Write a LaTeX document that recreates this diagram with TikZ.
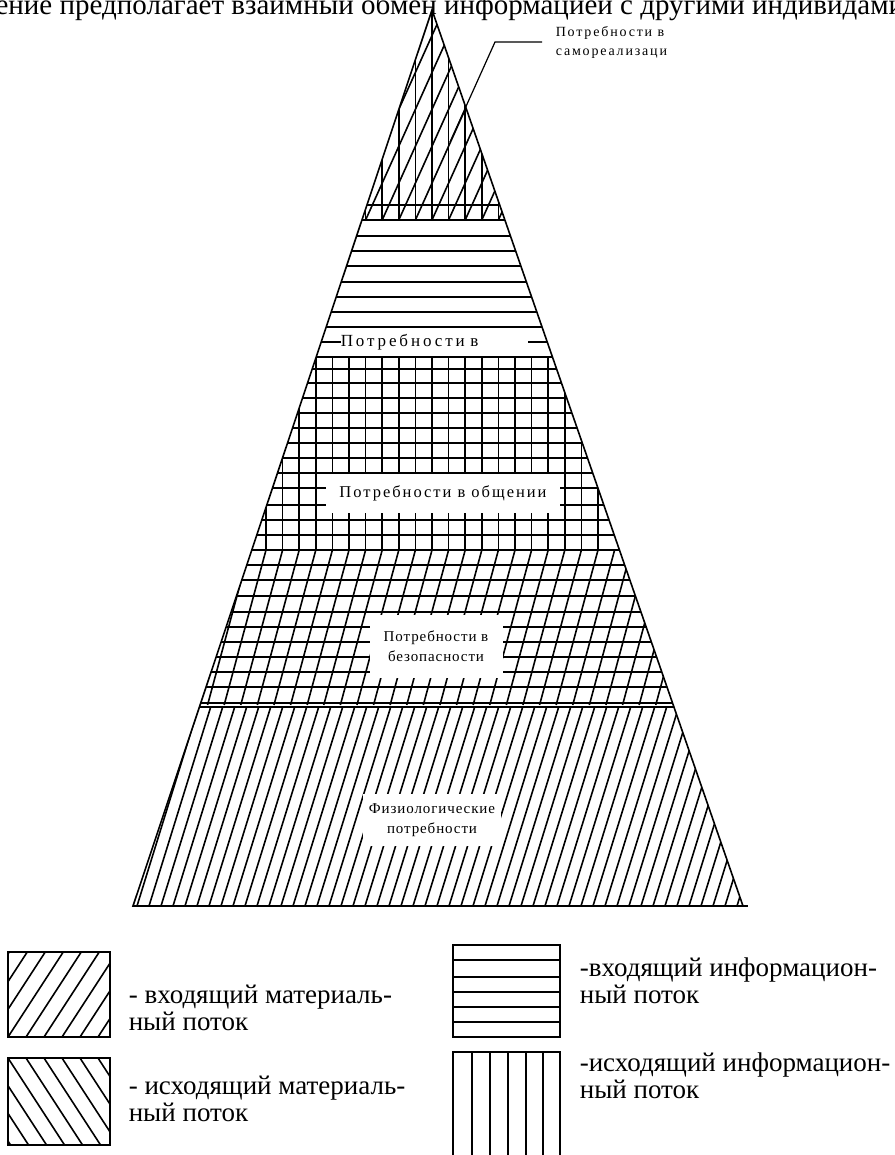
\documentclass[tikz,border=0pt]{standalone}
\usepackage{fontspec}
\setmainfont{Liberation Serif}
\begin{document}
\begin{tikzpicture}[x=1pt,y=-1pt,line width=1.6pt,
  lab/.style={fill=white,inner sep=0pt,font=\fontsize{16.5}{22}\selectfont\addfontfeature{LetterSpace=12}},
  labs/.style={fill=white,inner sep=0pt,align=center,font=\fontsize{15}{20}\selectfont\addfontfeature{LetterSpace=6}},
  legtext/.style={anchor=west,align=left,inner sep=0pt,font=\fontsize{27}{27.5}\selectfont}]
\useasboundingbox (0,0) rectangle (894,1155);
% top (cut) sentence
\node[anchor=base east,inner sep=0pt,font=\fontsize{29}{30}\selectfont] (top) at (905,15) {Общение предполагает взаимный обмен информацией с другими индивидами};
% pyramid hatching
\coordinate (A) at (432,10);
\coordinate (BL) at (133,906);
\coordinate (BR) at (743,906);
\begin{scope}
\clip (A) -- (BL) -- (BR) -- cycle;
% top triangle
\begin{scope}
\clip (0,0) rectangle (894,220);
\foreach \k in {-4,...,4} \draw ({432+16.6*\k},0) -- ({432+16.6*\k},220);
\foreach \k in {-9,...,6} \draw ({432+16.6*\k},220) -- ({432+16.6*\k+0.45*220},0);
\end{scope}
% horizontal lines
\foreach \y in {205,220,236,251,266,282,297,312,327,342,357,369,383,398,413,428,443,458,473,488,505,520,535,550,565,580,596,612,627,642,657,672,687,703,707}
  \draw (100,\y) -- (800,\y);
% grid verticals
\foreach \k in {-10,...,10} \draw ({432+16.6*\k},357) -- ({432+16.6*\k},550);
% band 4 diagonals
\foreach \k in {-12,...,16} \draw ({432+16.6*\k},550) -- ({432+16.6*\k-0.27*155},705);
% band 5 diagonals
\foreach \k in {0,...,54} \draw ({125+12*\k},906) -- ({125+12*\k+0.31*199},707);
\end{scope}
\draw (A) -- (BL) -- (BR) -- cycle;
\draw (133,906) -- (748,906);
% labels
\node[lab,anchor=west,minimum height=17pt,text width=187pt,font=\fontsize{17}{22}\selectfont\addfontfeature{LetterSpace=17}] (l2) at (340,342) {Потребности в};
\node[lab,minimum width=234pt,minimum height=39pt] (l3) at (443,493) {Потребности в общении};
\node[labs,minimum width=133pt,minimum height=63pt] (l4) at (436,646) {Потребности в\\безопасности};
\node[labs,minimum width=138pt,minimum height=52pt] (l5) at (432,820) {Физиологические\\потребности};
\node[anchor=west,align=left,inner xsep=13pt,inner ysep=0pt,font=\fontsize{14}{19}\selectfont\addfontfeature{LetterSpace=13}] (l1) at (542,42) {Потребности в\\самореализаци};
\coordinate (lp) at (450,142);
\draw[line width=1.2pt] (lp) -- (495,42) -- (l1.west);
% legend
\begin{scope}
\clip (8,952) rectangle (110,1037);
\foreach \k in {-5,...,6} \draw ({8+18*\k},1037) -- ({8+18*\k+0.65*85},952);
\end{scope}
\draw (8,952) rectangle (110,1037);
\begin{scope}
\clip (8,1058) rectangle (110,1145);
\foreach \k in {-5,...,6} \draw ({8+18*\k},1058) -- ({8+18*\k+0.65*87},1145);
\end{scope}
\draw (8,1058) rectangle (110,1145);
\draw (453,945) rectangle (560,1037);
\foreach \y in {960,977,992,1007,1022} \draw (453,\y) -- (560,\y);
\draw (453,1170) -- (453,1052) -- (560,1052) -- (560,1170);
\foreach \x in {472,490,508,526,543} \draw (\x,1052) -- (\x,1170);
\node[legtext] (t1) at (128,1008) {- входящий материаль-\\ный поток};
\node[legtext] (t2) at (128,1099) {- исходящий материаль-\\ный поток};
\node[legtext] (t3) at (579,981) {-входящий информацион-\\ный поток};
\node[legtext] (t4) at (579,1076) {-исходящий информацион-\\ный поток};
\end{tikzpicture}
\end{document}
